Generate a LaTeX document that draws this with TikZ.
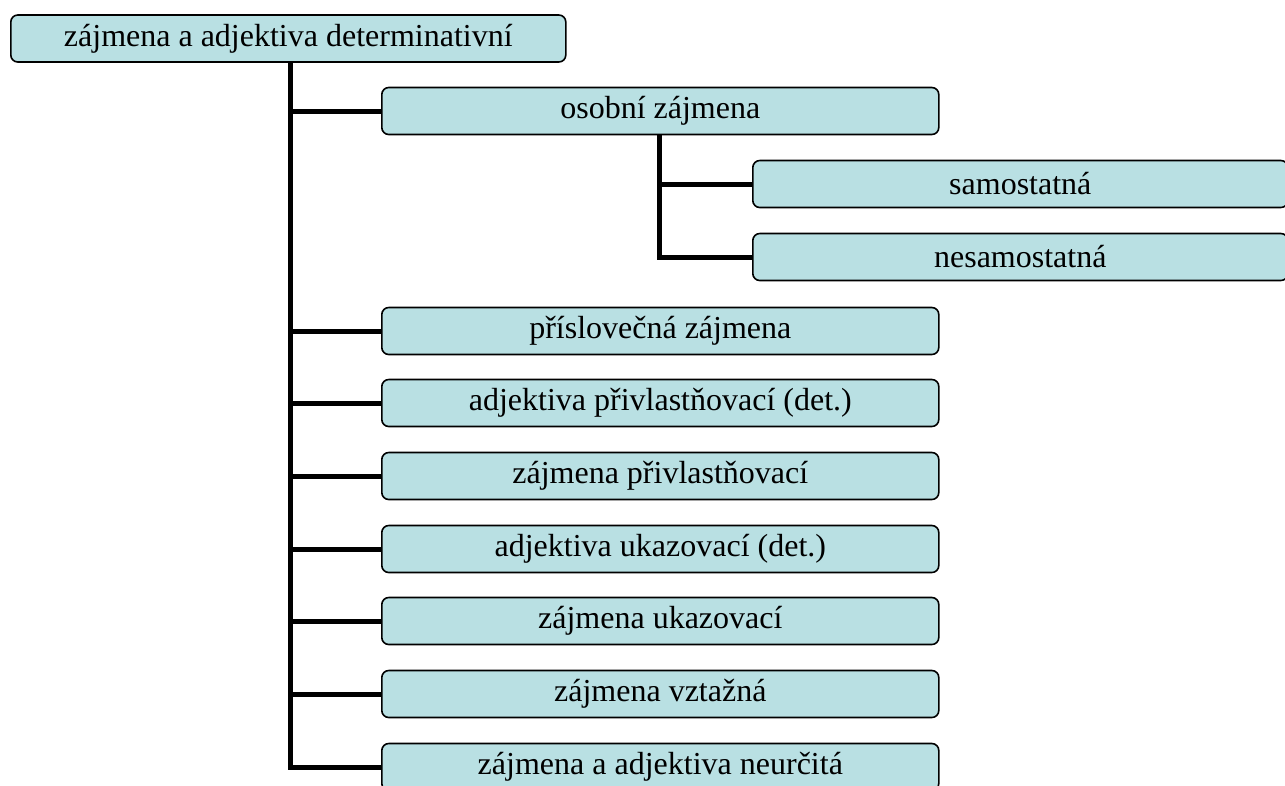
\documentclass[tikz,border=0pt]{standalone}
\usepackage{fontspec}
\setmainfont{Liberation Serif}
\definecolor{boxfill}{HTML}{B9E0E3}
\begin{document}
\begin{tikzpicture}[x=1pt,y=-1pt,
  catbox/.style={draw=black, line width=1.6pt, fill=boxfill, rounded corners=7pt,
    minimum height=47pt, inner sep=0pt, font=\fontsize{32}{36}\selectfont, anchor=west},
  mainbox/.style={catbox, minimum width=555pt},
  subbox/.style={catbox, minimum width=557pt},
  leafbox/.style={catbox, minimum width=535pt},
  branch/.style={line width=5pt}]
\useasboundingbox (0,0) rectangle (1285,785);

% root
\node[mainbox] (root) at (10,38.5) {zájmena a adjektiva determinativní};

% first-level categories
\node[subbox] (osob) at (381,111) {osobní zájmena};
\node[subbox] (prisl) at (381,331) {příslovečná zájmena};
\node[subbox] (adjpriv) at (381,403) {adjektiva přivlastňovací (det.)};
\node[subbox] (zajpriv) at (381,476) {zájmena přivlastňovací};
\node[subbox] (adjukaz) at (381,549) {adjektiva ukazovací (det.)};
\node[subbox] (zajukaz) at (381,621) {zájmena ukazovací};
\node[subbox] (vztaz) at (381,694) {zájmena vztažná};
\node[subbox] (neurc) at (381,767) {zájmena a adjektiva neurčitá};

% second-level under osobní zájmena
\node[leafbox] (samo) at (752,184) {samostatná};
\node[leafbox] (nesamo) at (752,257) {nesamostatná};

% trunk coordinates
\coordinate (t0) at (290,0 |- root.south);
\coordinate (t1) at (659,0 |- osob.south);

% main trunk
\draw[branch] (t0) -- (t0 |- neurc.west) -- (neurc.west);
\foreach \n in {osob,prisl,adjpriv,zajpriv,adjukaz,zajukaz,vztaz}
  \draw[branch] (t0 |- \n.west) -- (\n.west);

% sub-trunk
\draw[branch] (t1) -- (t1 |- nesamo.west) -- (nesamo.west);
\draw[branch] (t1 |- samo.west) -- (samo.west);
\end{tikzpicture}
\end{document}
